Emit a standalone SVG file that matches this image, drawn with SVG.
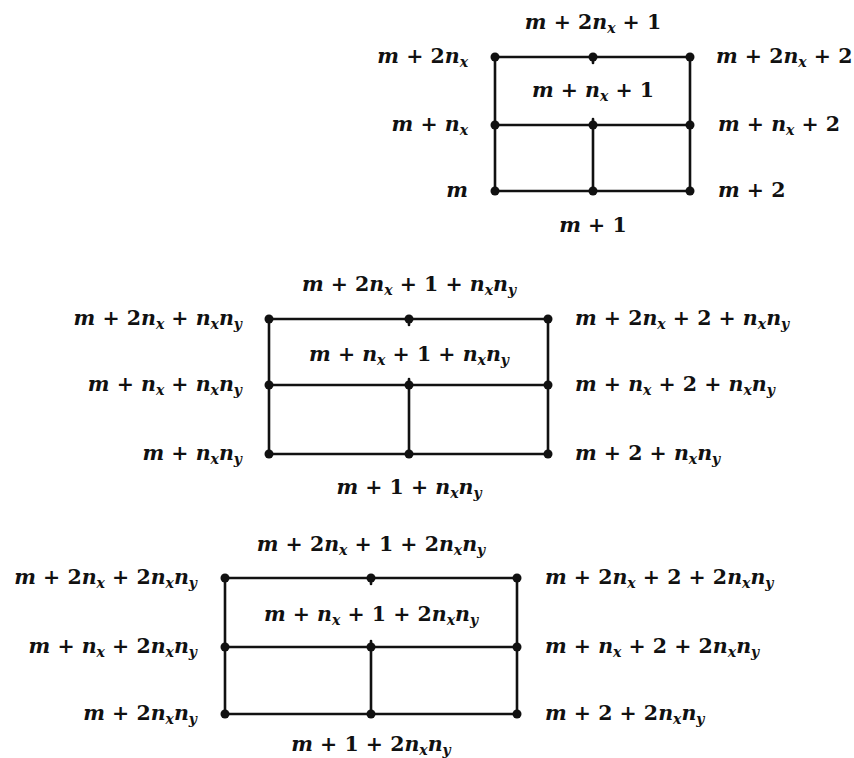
<svg xmlns="http://www.w3.org/2000/svg" width="854" height="758" viewBox="0 0 854 758">
<style>
.t{font-family:"DejaVu Serif","Liberation Serif",serif;font-size:20.5px;font-weight:bold;fill:#111;word-spacing:0px}
.l{text-anchor:end}
.c{text-anchor:middle}
.i{font-style:italic}
.s{font-size:14px;font-style:italic;baseline-shift:-4px}
.e line{stroke:#111;stroke-width:2.6;stroke-linecap:round}
.d{fill:#111}
</style>
<defs><circle id="dot" r="4.5" class="d"/></defs>
<rect width="854" height="758" fill="#fff"/>
<g id="connectors" class="e">
<line x1="495" y1="57" x2="690" y2="57"/><line x1="495" y1="125" x2="690" y2="125"/><line x1="495" y1="191" x2="690" y2="191"/>
<line x1="495" y1="57" x2="495" y2="191"/><line x1="690" y1="57" x2="690" y2="191"/><line x1="593" y1="125" x2="593" y2="191"/>
<line x1="593" y1="57" x2="593" y2="63"/><line x1="593" y1="125" x2="593" y2="119"/>
<line x1="269" y1="319" x2="548" y2="319"/><line x1="269" y1="385" x2="548" y2="385"/><line x1="269" y1="454" x2="548" y2="454"/>
<line x1="269" y1="319" x2="269" y2="454"/><line x1="548" y1="319" x2="548" y2="454"/><line x1="409" y1="385" x2="409" y2="454"/>
<line x1="409" y1="319" x2="409" y2="325"/><line x1="409" y1="385" x2="409" y2="379"/>
<line x1="225" y1="578" x2="517" y2="578"/><line x1="225" y1="647" x2="517" y2="647"/><line x1="225" y1="714" x2="517" y2="714"/>
<line x1="225" y1="578" x2="225" y2="714"/><line x1="517" y1="578" x2="517" y2="714"/><line x1="371" y1="647" x2="371" y2="714"/>
<line x1="371" y1="578" x2="371" y2="584"/><line x1="371" y1="647" x2="371" y2="641"/>
</g>
<!-- grid 1 -->
<g id="g1-bl"><use href="#dot" x="495" y="191"/><text class="t l" x="468" y="197"><tspan class="i">m</tspan></text></g>
<g id="g1-bm"><use href="#dot" x="593" y="191"/><text class="t c" x="593" y="232"><tspan class="i">m</tspan> + 1</text></g>
<g id="g1-br"><use href="#dot" x="690" y="191"/><text class="t" x="718" y="197"><tspan class="i">m</tspan> + 2</text></g>
<g id="g1-ml"><use href="#dot" x="495" y="125"/><text class="t l" x="468" y="131"><tspan class="i">m</tspan> + <tspan class="i">n</tspan><tspan class="s">x</tspan></text></g>
<g id="g1-mm"><use href="#dot" x="593" y="125"/><text class="t c" x="593" y="97"><tspan class="i">m</tspan> + <tspan class="i">n</tspan><tspan class="s">x</tspan> + 1</text></g>
<g id="g1-mr"><use href="#dot" x="690" y="125"/><text class="t" x="718" y="131"><tspan class="i">m</tspan> + <tspan class="i">n</tspan><tspan class="s">x</tspan> + 2</text></g>
<g id="g1-tl"><use href="#dot" x="495" y="57"/><text class="t l" x="468" y="63"><tspan class="i">m</tspan> + 2<tspan class="i">n</tspan><tspan class="s">x</tspan></text></g>
<g id="g1-tm"><use href="#dot" x="593" y="57"/><text class="t c" x="593" y="29"><tspan class="i">m</tspan> + 2<tspan class="i">n</tspan><tspan class="s">x</tspan> + 1</text></g>
<g id="g1-tr"><use href="#dot" x="690" y="57"/><text class="t" x="716" y="63"><tspan class="i">m</tspan> + 2<tspan class="i">n</tspan><tspan class="s">x</tspan> + 2</text></g>
<!-- grid 2 -->
<g id="g2-bl"><use href="#dot" x="269" y="454"/><text class="t l" x="242" y="460"><tspan class="i">m</tspan> + <tspan class="i">n</tspan><tspan class="s">x</tspan><tspan class="i">n</tspan><tspan class="s">y</tspan></text></g>
<g id="g2-bm"><use href="#dot" x="409" y="454"/><text class="t c" x="409" y="494"><tspan class="i">m</tspan> + 1 + <tspan class="i">n</tspan><tspan class="s">x</tspan><tspan class="i">n</tspan><tspan class="s">y</tspan></text></g>
<g id="g2-br"><use href="#dot" x="548" y="454"/><text class="t" x="575" y="460"><tspan class="i">m</tspan> + 2 + <tspan class="i">n</tspan><tspan class="s">x</tspan><tspan class="i">n</tspan><tspan class="s">y</tspan></text></g>
<g id="g2-ml"><use href="#dot" x="269" y="385"/><text class="t l" x="242" y="391"><tspan class="i">m</tspan> + <tspan class="i">n</tspan><tspan class="s">x</tspan> + <tspan class="i">n</tspan><tspan class="s">x</tspan><tspan class="i">n</tspan><tspan class="s">y</tspan></text></g>
<g id="g2-mm"><use href="#dot" x="409" y="385"/><text class="t c" x="409" y="361"><tspan class="i">m</tspan> + <tspan class="i">n</tspan><tspan class="s">x</tspan> + 1 + <tspan class="i">n</tspan><tspan class="s">x</tspan><tspan class="i">n</tspan><tspan class="s">y</tspan></text></g>
<g id="g2-mr"><use href="#dot" x="548" y="385"/><text class="t" x="575" y="391"><tspan class="i">m</tspan> + <tspan class="i">n</tspan><tspan class="s">x</tspan> + 2 + <tspan class="i">n</tspan><tspan class="s">x</tspan><tspan class="i">n</tspan><tspan class="s">y</tspan></text></g>
<g id="g2-tl"><use href="#dot" x="269" y="319"/><text class="t l" x="242" y="325"><tspan class="i">m</tspan> + 2<tspan class="i">n</tspan><tspan class="s">x</tspan> + <tspan class="i">n</tspan><tspan class="s">x</tspan><tspan class="i">n</tspan><tspan class="s">y</tspan></text></g>
<g id="g2-tm"><use href="#dot" x="409" y="319"/><text class="t c" x="409" y="291"><tspan class="i">m</tspan> + 2<tspan class="i">n</tspan><tspan class="s">x</tspan> + 1 + <tspan class="i">n</tspan><tspan class="s">x</tspan><tspan class="i">n</tspan><tspan class="s">y</tspan></text></g>
<g id="g2-tr"><use href="#dot" x="548" y="319"/><text class="t" x="575" y="325"><tspan class="i">m</tspan> + 2<tspan class="i">n</tspan><tspan class="s">x</tspan> + 2 + <tspan class="i">n</tspan><tspan class="s">x</tspan><tspan class="i">n</tspan><tspan class="s">y</tspan></text></g>
<!-- grid 3 -->
<g id="g3-bl"><use href="#dot" x="225" y="714"/><text class="t l" x="197" y="720"><tspan class="i">m</tspan> + 2<tspan class="i">n</tspan><tspan class="s">x</tspan><tspan class="i">n</tspan><tspan class="s">y</tspan></text></g>
<g id="g3-bm"><use href="#dot" x="371" y="714"/><text class="t c" x="371" y="751"><tspan class="i">m</tspan> + 1 + 2<tspan class="i">n</tspan><tspan class="s">x</tspan><tspan class="i">n</tspan><tspan class="s">y</tspan></text></g>
<g id="g3-br"><use href="#dot" x="517" y="714"/><text class="t" x="545" y="720"><tspan class="i">m</tspan> + 2 + 2<tspan class="i">n</tspan><tspan class="s">x</tspan><tspan class="i">n</tspan><tspan class="s">y</tspan></text></g>
<g id="g3-ml"><use href="#dot" x="225" y="647"/><text class="t l" x="197" y="653"><tspan class="i">m</tspan> + <tspan class="i">n</tspan><tspan class="s">x</tspan> + 2<tspan class="i">n</tspan><tspan class="s">x</tspan><tspan class="i">n</tspan><tspan class="s">y</tspan></text></g>
<g id="g3-mm"><use href="#dot" x="371" y="647"/><text class="t c" x="371" y="621"><tspan class="i">m</tspan> + <tspan class="i">n</tspan><tspan class="s">x</tspan> + 1 + 2<tspan class="i">n</tspan><tspan class="s">x</tspan><tspan class="i">n</tspan><tspan class="s">y</tspan></text></g>
<g id="g3-mr"><use href="#dot" x="517" y="647"/><text class="t" x="545" y="653"><tspan class="i">m</tspan> + <tspan class="i">n</tspan><tspan class="s">x</tspan> + 2 + 2<tspan class="i">n</tspan><tspan class="s">x</tspan><tspan class="i">n</tspan><tspan class="s">y</tspan></text></g>
<g id="g3-tl"><use href="#dot" x="225" y="578"/><text class="t l" x="197" y="584"><tspan class="i">m</tspan> + 2<tspan class="i">n</tspan><tspan class="s">x</tspan> + 2<tspan class="i">n</tspan><tspan class="s">x</tspan><tspan class="i">n</tspan><tspan class="s">y</tspan></text></g>
<g id="g3-tm"><use href="#dot" x="371" y="578"/><text class="t c" x="371" y="551"><tspan class="i">m</tspan> + 2<tspan class="i">n</tspan><tspan class="s">x</tspan> + 1 + 2<tspan class="i">n</tspan><tspan class="s">x</tspan><tspan class="i">n</tspan><tspan class="s">y</tspan></text></g>
<g id="g3-tr"><use href="#dot" x="517" y="578"/><text class="t" x="545" y="584"><tspan class="i">m</tspan> + 2<tspan class="i">n</tspan><tspan class="s">x</tspan> + 2 + 2<tspan class="i">n</tspan><tspan class="s">x</tspan><tspan class="i">n</tspan><tspan class="s">y</tspan></text></g>
</svg>
